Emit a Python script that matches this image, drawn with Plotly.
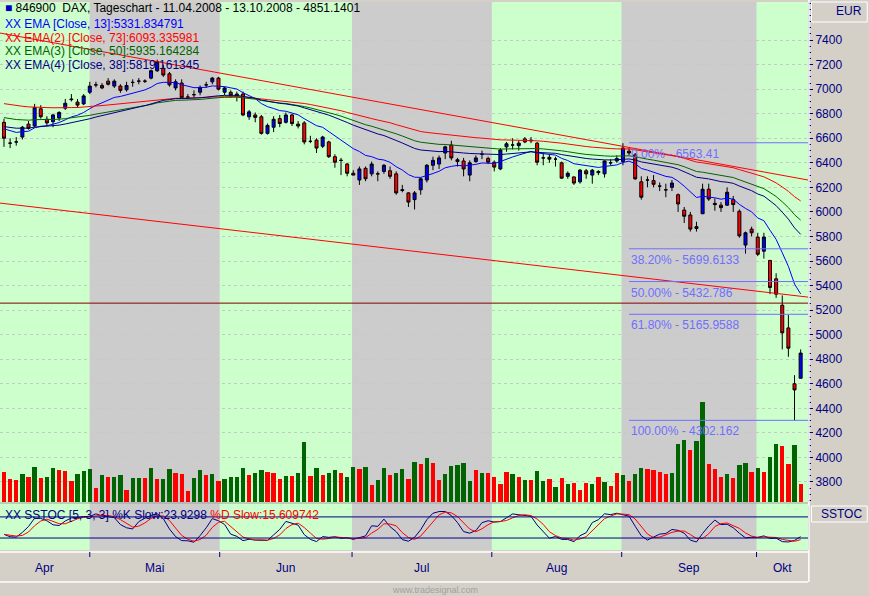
import plotly.graph_objects as go

ohlc = [
(6730,6760,6530,6600),(6560,6600,6520,6560),(6570,6610,6540,6570),(6610,6700,6590,6690),(6715,6740,6670,6680),
(6700,6880,6690,6850),(6840,6870,6760,6775),(6755,6780,6700,6725),(6735,6800,6690,6790),(6765,6820,6740,6810),
(6845,6920,6830,6885),(6920,6960,6900,6915),(6895,6920,6850,6870),(6880,6960,6870,6945),(6975,7060,6960,7025),
(7035,7060,7015,7035),(7030,7050,7000,7010),(7065,7090,7030,7040),(7025,7080,7010,7065),(7025,7040,6970,6990),
(6995,7060,6980,7030),(7055,7080,7020,7055),(7065,7090,7040,7065),(7065,7080,7050,7065),(7090,7160,7080,7150),
(7150,7240,7140,7225),(7170,7200,7100,7115),(7125,7140,7020,7035),(7010,7080,6990,7060),(7050,7080,6920,6930),
(6935,6960,6920,6935),(6955,6990,6930,6955),(6975,7030,6950,7015),(7035,7060,7010,7035),(7060,7100,7040,7090),
(7090,7100,6990,7000),(6975,7020,6950,7010),(6975,6990,6930,6950),(6960,6980,6900,6945),(6960,6980,6780,6790),
(6775,6830,6750,6815),(6790,6810,6730,6770),(6775,6790,6630,6640),(6640,6720,6630,6705),(6690,6780,6650,6755),
(6760,6790,6690,6720),(6730,6810,6720,6790),(6790,6800,6700,6720),(6715,6740,6680,6700),(6725,6740,6550,6570),
(6575,6620,6560,6575),(6585,6600,6480,6520),(6535,6620,6520,6610),(6570,6580,6440,6450),(6450,6470,6360,6405),
(6420,6440,6300,6420),(6390,6400,6290,6315),(6315,6340,6300,6300),(6260,6370,6220,6350),(6355,6370,6250,6270),
(6310,6410,6290,6390),(6310,6330,6250,6310),(6330,6390,6310,6380),(6335,6370,6270,6290),(6310,6330,6140,6155),
(6175,6220,6160,6180),(6155,6160,6040,6080),(6100,6170,6020,6155),(6180,6280,6140,6270),(6260,6390,6240,6380),
(6380,6450,6340,6420),(6390,6460,6350,6440),(6480,6540,6430,6530),(6545,6580,6420,6440),(6410,6440,6370,6425),
(6415,6440,6290,6350),(6300,6420,6250,6400),(6410,6460,6400,6440),(6470,6500,6430,6470),(6435,6450,6390,6405),
(6405,6420,6330,6365),(6350,6520,6340,6505),(6530,6570,6490,6555),(6545,6600,6510,6545),(6540,6580,6500,6560),
(6595,6610,6560,6570),(6585,6610,6560,6580),(6560,6570,6380,6405),(6440,6480,6380,6440),(6445,6470,6400,6430),
(6430,6450,6370,6430),(6400,6410,6270,6275),(6290,6330,6270,6315),(6285,6290,6220,6235),(6245,6350,6230,6340),
(6335,6350,6270,6310),(6300,6350,6230,6340),(6330,6340,6300,6320),(6310,6420,6280,6415),(6400,6430,6380,6400),
(6415,6460,6400,6435),(6410,6560,6380,6520),(6495,6520,6460,6480),(6465,6480,6260,6270),(6245,6290,6100,6120),
(6260,6290,6200,6260),(6255,6300,6200,6225),(6210,6240,6170,6210),(6180,6230,6120,6180),(6200,6260,6170,6235),
(6140,6150,6000,6065),(6015,6040,5910,5965),(5975,6000,5840,5860),(5880,5920,5840,5865),(5985,6230,5985,6185),
(6185,6230,6090,6105),(6070,6110,6010,6060),(6055,6080,6000,6035),(6055,6200,6050,6160),(6100,6130,6000,6060),
(6005,6020,5790,5805),(5730,5840,5660,5830),(5860,5880,5800,5830),(5795,5830,5640,5655),(5680,5830,5620,5795),
(5605,5605,5330,5385),(5455,5500,5300,5330),(5240,5320,4880,5015),(5055,5160,4820,4890),(4600,4670,4302,4550),
(4645,4880,4645,4850),
]
opens = [r[0] for r in ohlc]
highs = [r[1] for r in ohlc]
lows = [r[2] for r in ohlc]
closes = [r[3] for r in ohlc]

volumes = [30,23,22,28,25,35,24,25,34,32,31,21,28,31,33,14,27,25,25,27,12,24,24,24,34,23,23,33,29,28,11,24,32,27,28,21,23,25,25,34,
           27,29,32,30,29,23,26,26,29,60,26,34,27,29,32,29,25,35,33,35,17,22,34,27,29,33,23,40,38,44,39,22,
           28,36,37,39,21,32,29,29,25,18,30,28,25,22,22,31,21,23,15,24,18,19,12,19,18,25,20,16,29,27,21,28,34,33,32,30,28,29,
           58,62,52,61,100,38,33,25,28,24,37,39,30,34,30,45,58,56,38,57,18]
vol_dir = "RRRGRGRGGRRRGGGRGRGGRGGRGRGGRRRGGRGRGGGGRGGRRRGRGGRGRGGRGGRGRGGRGGRGRGRRGGGGGRGRRRRGRGRGGRGRGRRRGRGRRGRGGRRRRGGGRGGRRRGRGGRGRGGRRGR"

ema_specs = [("EMA [Close, 13]:5331.834791", 13, 6690, "#0000ff"),
             ("EMA(2) [Close, 73]:6093.335981", 73, 6890, "#ff0000"),
             ("EMA(3) [Close, 50]:5935.164284", 50, 6775, "#006400"),
             ("EMA(4) [Close, 38]:5819.161345", 38, 6700, "#000080")]

month_names = ["Apr", "Mai", "Jun", "Jul", "Aug", "Sep", "Okt"]
month_starts = [-0.65, 14, 35.2, 56.8, 79.6, 100.8, 122.8]
price_ticks = list(range(3800, 7401, 200))
fib_levels = [6563.41, 5699.6133, 5432.786, 5165.9588, 4302.162]
fib_labels = ["0.00% - 6563.41", "38.20% - 5699.6133", "50.00% - 5432.786", "61.80% - 5165.9588", "100.00% - 4302.162"]
trend_upper = (7457, 6260)
trend_lower = (6072, 5306)
hline_price = 5257

n = len(closes)
x = list(range(n))
xmax = 131.2
fib_x0 = 102

def ema(vals, p, seed):
    k = 2 / (p + 1); out = []; e = seed
    for v in vals:
        e = v * k + e * (1 - k); out.append(e)
    return out

rawk = []
for i in range(n):
    lo = min(lows[max(0, i-4):i+1]); hi = max(highs[max(0, i-4):i+1])
    rawk.append(100 * (closes[i] - lo) / (hi - lo) if hi > lo else 50)
def sma(v, p):
    return [sum(v[max(0, i-p+1):i+1]) / len(v[max(0, i-p+1):i+1]) for i in range(len(v))]
kslow = sma(rawk, 3); dslow = sma(kslow, 3)

H = 596; W = 869
def py(px): return 1 - px / H
XD = 808 / W

fig = go.Figure()
fig.add_trace(go.Bar(x=x, y=volumes, yaxis="y3", width=0.7,
                     marker=dict(color=["#006400" if c == "G" else "#ff0000" for c in vol_dir], line=dict(width=0)),
                     showlegend=False, hoverinfo="skip"))
for name, p, seed, col in ema_specs:
    fig.add_trace(go.Scatter(x=x, y=ema(closes, p, seed), mode="lines", line=dict(color=col, width=1), showlegend=False))
fig.add_trace(go.Candlestick(x=x, open=opens, high=highs, low=lows, close=closes, whiskerwidth=0,
                             increasing=dict(fillcolor="#0000ff", line=dict(color="#000000", width=1)),
                             decreasing=dict(fillcolor="#ff0000", line=dict(color="#000000", width=1)),
                             showlegend=False))
fig.add_trace(go.Scatter(x=x, y=kslow, yaxis="y2", mode="lines", line=dict(color="#000080", width=1), showlegend=False))
fig.add_trace(go.Scatter(x=x, y=dslow, yaxis="y2", mode="lines", line=dict(color="#ff0000", width=1), showlegend=False))

shapes = []
bounds = month_starts + [xmax]
for i in range(len(month_names)):
    shapes.append(dict(type="rect", xref="x", yref="paper", x0=bounds[i], x1=bounds[i+1], y0=py(550), y1=py(2),
                       fillcolor="#ccffcc" if i % 2 == 0 else "#cccccc", line=dict(width=0), layer="below"))
shapes.append(dict(type="line", xref="x", yref="y", x0=-0.65, x1=xmax, y0=trend_upper[0], y1=trend_upper[1], line=dict(color="#ff0000", width=1)))
shapes.append(dict(type="line", xref="x", yref="y", x0=-0.65, x1=xmax, y0=trend_lower[0], y1=trend_lower[1], line=dict(color="#ff0000", width=1)))
shapes.append(dict(type="line", xref="x", yref="y", x0=-0.65, x1=xmax, y0=hline_price, y1=hline_price, line=dict(color="#800000", width=1)))
for lv in fib_levels:
    shapes.append(dict(type="line", xref="x", yref="y", x0=fib_x0, x1=xmax, y0=lv, y1=lv, line=dict(color="#6f6fff", width=1)))
for lv in (20, 80):
    shapes.append(dict(type="line", xref="x", yref="y2", x0=-0.65, x1=xmax, y0=lv, y1=lv, line=dict(color="#000080", width=1)))
shapes += [
    dict(type="line", xref="paper", yref="paper", x0=0, x1=XD, y0=py(552), y1=py(552), line=dict(color="white", width=1.5)),
    dict(type="line", xref="paper", yref="paper", x0=0, x1=XD, y0=py(582), y1=py(582), line=dict(color="white", width=1.5)),
    dict(type="line", xref="paper", yref="paper", x0=XD+0.001, x1=XD+0.001, y0=py(582), y1=1, line=dict(color="white", width=1.5)),
    dict(type="line", xref="paper", yref="paper", x0=0, x1=XD, y0=py(503), y1=py(503), line=dict(color="#a0a0a0", width=1)),
    dict(type="rect", xref="paper", yref="paper", x0=XD+0.004, x1=0.998, y0=py(22), y1=py(2), line=dict(color="white", width=1), fillcolor="#d4d0c8"),
    dict(type="rect", xref="paper", yref="paper", x0=XD+0.004, x1=0.998, y0=py(522), y1=py(506), line=dict(color="white", width=1), fillcolor="#d4d0c8"),
]
for b in month_starts[1:]:
    shapes.append(dict(type="line", xref="x", yref="paper", x0=b, x1=b, y0=py(557), y1=py(552), line=dict(color="#000080", width=1)))

ann = []
ann.append(dict(xref="paper", yref="paper", x=0.004, y=py(8), text="<span style='color:#0000c0'>■</span> 846900  DAX, Tageschart - 11.04.2008 - 13.10.2008 - 4851.1401",
                showarrow=False, xanchor="left", yanchor="middle", font=dict(color="black", size=12)))
for k, (name, p, seed, col) in enumerate(ema_specs):
    ann.append(dict(xref="paper", yref="paper", x=0.003, y=py(24 + 13.7 * k), text="XX " + name, showarrow=False,
                    xanchor="left", yanchor="middle", font=dict(color=col, size=12)))
for lv, t in zip(fib_levels, fib_labels):
    ann.append(dict(xref="x", yref="y", x=fib_x0, y=lv, text=t, showarrow=False, xanchor="left", yanchor="top",
                    yshift=-2, font=dict(color="#6f6fff", size=12)))
ann.append(dict(xref="paper", yref="paper", x=0.003, y=py(515), text="XX SSTOC [5, 3, 3] %K Slow:23.9298 <span style='color:#ff0000'>%D Slow:15.609742</span>",
                showarrow=False, xanchor="left", yanchor="middle", font=dict(color="#000080", size=12)))
for i, m in enumerate(month_names):
    ann.append(dict(xref="x", yref="paper", x=(bounds[i] + bounds[i+1]) / 2, y=py(568), text=m, showarrow=False,
                    xanchor="center", yanchor="middle", font=dict(color="#000080", size=12)))
ann.append(dict(xref="paper", yref="paper", x=(XD + 1) / 2 + 0.012, y=py(11), text="EUR", showarrow=False,
                xanchor="center", yanchor="middle", font=dict(color="#000080", size=12)))
ann.append(dict(xref="paper", yref="paper", x=(XD + 1) / 2 + 0.003, y=py(514), text="SSTOC", showarrow=False,
                xanchor="center", yanchor="middle", font=dict(color="#000080", size=12)))
ann.append(dict(xref="paper", yref="paper", x=0.5, y=py(590), text="www.tradesignal.com", showarrow=False,
                xanchor="center", yanchor="middle", font=dict(color="#a0a0a0", size=9)))

fig.update_layout(
    width=W, height=H, margin=dict(l=0, r=0, t=0, b=0, autoexpand=False), paper_bgcolor="#d4d0c8", plot_bgcolor="rgba(0,0,0,0)",
    font=dict(family="Liberation Sans, Arial", size=12), shapes=shapes, annotations=ann,
    xaxis=dict(domain=[0, XD], range=[-0.65, xmax], showticklabels=False, showgrid=False, zeroline=False,
               rangeslider=dict(visible=False), anchor="y2"),
    yaxis=dict(domain=[py(502), py(2)], range=[3637, 7710], side="right", tickvals=price_ticks,
               tickfont=dict(color="#000080", size=12), ticks="outside", ticklen=4, tickcolor="#000080",
               showline=True, linecolor="#000080", gridcolor="#c8c8c8", griddash="dot", zeroline=False,
               minor=dict(dtick=50, ticklen=2, tickcolor="#000080", ticks="outside", showgrid=False), anchor="x"),
    yaxis3=dict(domain=[py(502), py(2)], range=[0, 500], overlaying="y", visible=False, anchor="x"),
    yaxis2=dict(domain=[py(550), py(506)], range=[-14, 111], side="right", showticklabels=False, showgrid=False,
                zeroline=False, showline=True, linecolor="#000080", anchor="x"),
    bargap=0,
)
fig.write_html("out.html", config={"displayModeBar": False},
               post_script="document.body.style.margin='0';document.body.style.padding='0';")
